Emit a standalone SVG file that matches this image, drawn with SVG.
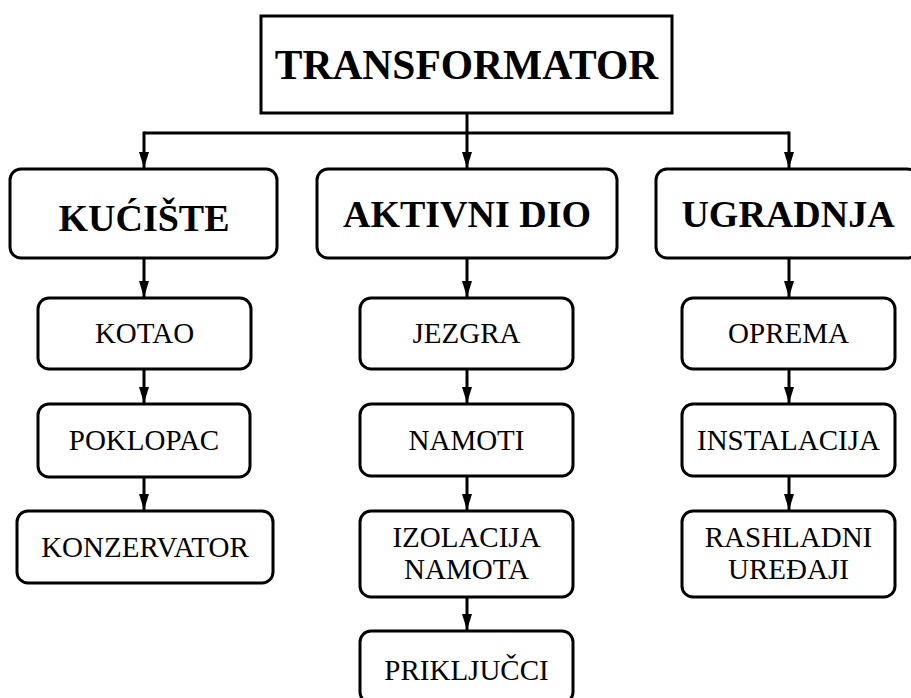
<svg xmlns="http://www.w3.org/2000/svg" width="911" height="698" viewBox="0 0 911 698">
<defs>
<marker id="arr" viewBox="0 0 16 10" refX="16" refY="5" markerWidth="16" markerHeight="10" orient="auto" markerUnits="userSpaceOnUse">
<path d="M0,0 L16,5 L0,10 z" fill="#000"/>
</marker>
</defs>
<style>
.box{fill:#fff;stroke:#000;stroke-width:3}
.big{font-family:"Liberation Serif","Times New Roman",serif;font-weight:bold;font-size:38px;text-anchor:middle;fill:#000}
.sm{font-family:"Liberation Serif","Times New Roman",serif;font-size:29px;text-anchor:middle;fill:#000}
.c{fill:none;stroke:#000;stroke-width:3}
</style>
<rect width="911" height="698" fill="#fff"/>
<g id="connectors">
<path class="c" d="M144,133 H789"/>
<path class="c" d="M467,113 V168" marker-end="url(#arr)"/>
<path class="c" d="M144,131.5 V168" marker-end="url(#arr)"/>
<path class="c" d="M789,131.5 V168" marker-end="url(#arr)"/>
<path class="c" d="M144,258 V297" marker-end="url(#arr)"/>
<path class="c" d="M144,369 V403" marker-end="url(#arr)"/>
<path class="c" d="M144,477 V510" marker-end="url(#arr)"/>
<path class="c" d="M467,258 V297" marker-end="url(#arr)"/>
<path class="c" d="M467,369 V403" marker-end="url(#arr)"/>
<path class="c" d="M467,476 V510" marker-end="url(#arr)"/>
<path class="c" d="M467,597 V630" marker-end="url(#arr)"/>
<path class="c" d="M789,258 V297" marker-end="url(#arr)"/>
<path class="c" d="M789,369 V403" marker-end="url(#arr)"/>
<path class="c" d="M789,476 V510" marker-end="url(#arr)"/>
</g>
<g id="transformator">
<rect class="box" x="261" y="16" width="411" height="97"/>
<text class="big" x="466.5" y="79" style="font-size:41.5px">TRANSFORMATOR</text>
</g>
<g id="kuciste">
<rect class="box" x="10" y="169" width="267" height="89" rx="11"/>
<text class="big" x="144" y="231">KUĆIŠTE</text>
</g>
<g id="aktivni-dio">
<rect class="box" x="317" y="169" width="300" height="89" rx="11"/>
<text class="big" x="467" y="227">AKTIVNI DIO</text>
</g>
<g id="ugradnja">
<rect class="box" x="656" y="169" width="262" height="89" rx="11"/>
<text class="big" x="788" y="227">UGRADNJA</text>
</g>
<g id="kotao">
<rect class="box" x="38" y="298" width="213" height="71" rx="11"/>
<text class="sm" x="144.5" y="343">KOTAO</text>
</g>
<g id="poklopac">
<rect class="box" x="38" y="404" width="212" height="73" rx="11"/>
<text class="sm" x="144" y="450">POKLOPAC</text>
</g>
<g id="konzervator">
<rect class="box" x="17" y="511" width="256" height="72" rx="11"/>
<text class="sm" x="145" y="557">KONZERVATOR</text>
</g>
<g id="jezgra">
<rect class="box" x="360" y="298" width="213" height="71" rx="11"/>
<text class="sm" x="466.5" y="343">JEZGRA</text>
</g>
<g id="namoti">
<rect class="box" x="360" y="404" width="213" height="72" rx="11"/>
<text class="sm" x="466.5" y="450">NAMOTI</text>
</g>
<g id="izolacija-namota">
<rect class="box" x="360" y="511" width="213" height="86" rx="11"/>
<text class="sm" x="466.5" y="547">IZOLACIJA</text>
<text class="sm" x="466.5" y="579">NAMOTA</text>
</g>
<g id="prikljucci">
<rect class="box" x="360" y="631" width="213" height="72" rx="11"/>
<text class="sm" x="466.5" y="680">PRIKLJUČCI</text>
</g>
<g id="oprema">
<rect class="box" x="682" y="298" width="213" height="71" rx="11"/>
<text class="sm" x="788.5" y="343">OPREMA</text>
</g>
<g id="instalacija">
<rect class="box" x="682" y="404" width="213" height="72" rx="11"/>
<text class="sm" x="788.5" y="450">INSTALACIJA</text>
</g>
<g id="rashladni-uredjaji">
<rect class="box" x="682" y="511" width="213" height="86" rx="11"/>
<text class="sm" x="788.5" y="547">RASHLADNI</text>
<text class="sm" x="788.5" y="579">UREĐAJI</text>
</g>
</svg>
